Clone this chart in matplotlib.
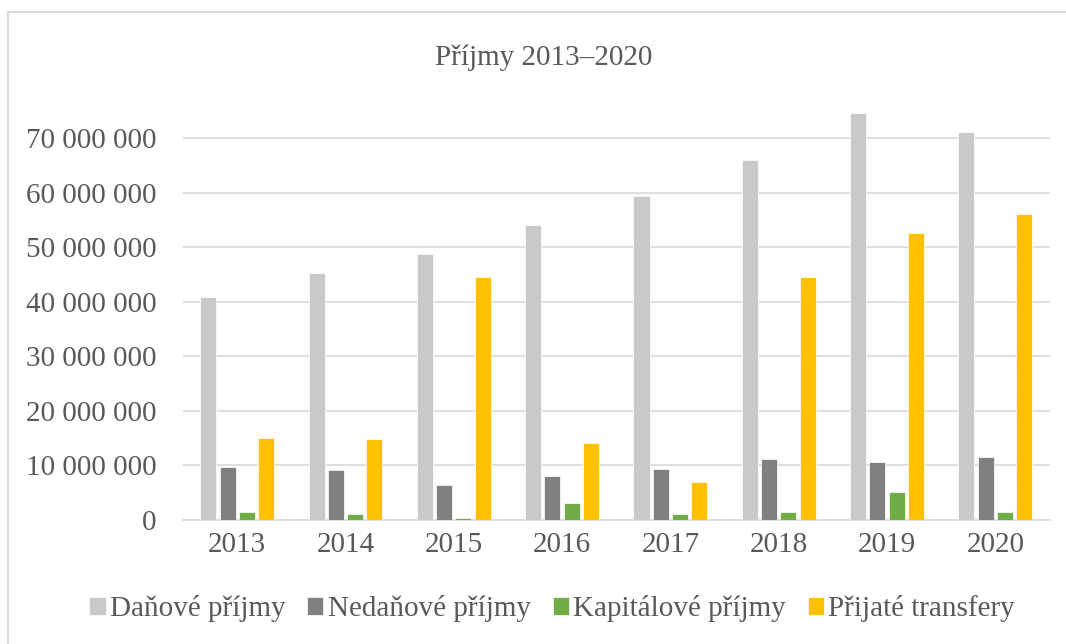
import numpy as np
import matplotlib
matplotlib.use('Agg')
import matplotlib.pyplot as plt
from matplotlib.patches import Rectangle
from matplotlib.ticker import FuncFormatter

years = ['2013', '2014', '2015', '2016', '2017', '2018', '2019', '2020']
danove = [40.9e6, 45.3e6, 48.75e6, 54.0e6, 59.4e6, 66.0e6, 74.7e6, 71.2e6]
nedanove = [9.7e6, 9.1e6, 6.4e6, 8.1e6, 9.25e6, 11.1e6, 10.6e6, 11.5e6]
kapitalove = [1.47e6, 1.05e6, 0.37e6, 3.0e6, 1.1e6, 1.35e6, 5.1e6, 1.47e6]
transfery = [15.0e6, 14.75e6, 44.5e6, 14.1e6, 6.9e6, 44.6e6, 52.6e6, 56.1e6]
series_names = ['Daňové příjmy', 'Nedaňové příjmy', 'Kapitálové příjmy', 'Přijaté transfery']
colors = ['#c9c9c9', '#808080', '#70ad47', '#ffc000']

plt.rcParams['font.family'] = ['Liberation Serif', 'DejaVu Serif']
text_color = '#595959'

fig = plt.figure(figsize=(10.66, 6.44), dpi=100)
# chart border
fig.patches.append(Rectangle((8 / 1066, -0.1), 1.2, 1 - 12 / 644 + 0.1,
                             transform=fig.transFigure, fill=False,
                             edgecolor='#d9d9d9', linewidth=1.5))

ax = fig.add_axes([183 / 1066, 1 - 519.7 / 644, 866.5 / 1066, 414.2 / 644])

x = np.arange(len(years))
slot = 0.178
width = 0.148
for i, (vals, name, c) in enumerate(zip([danove, nedanove, kapitalove, transfery],
                                        series_names, colors)):
    ax.bar(x + (i - 1.5) * slot, vals, width, color=c, label=name,
           edgecolor='white', linewidth=0.5, zorder=3)

ax.set_xlim(-0.5, 7.5)
ax.set_ylim(0, 76e6)
ax.set_yticks(np.arange(0, 70e6 + 1, 10e6))
ax.yaxis.set_major_formatter(FuncFormatter(lambda v, p: f'{int(v):,}'.replace(',', ' ')))
ax.set_xticks(x)
ax.set_xticklabels(years)
ax.grid(axis='y', color='#d9d9d9', linewidth=1.2, zorder=0)
for s in ['top', 'right', 'left']:
    ax.spines[s].set_visible(False)
ax.spines['bottom'].set_color('#d9d9d9')
ax.spines['bottom'].set_linewidth(1.2)
ax.tick_params(axis='both', length=0, labelsize=21, colors=text_color)
ax.tick_params(axis='y', pad=19)
ax.tick_params(axis='x', pad=9)

fig.text(544 / 1066, 1 - 58 / 644, 'Příjmy 2013–2020', ha='center', va='center',
         fontsize=21, color=text_color)

leg = fig.legend(loc='center', bbox_to_anchor=(0.518, 1 - 609 / 644), ncol=4,
                 frameon=False, prop={'family': 'Liberation Serif', 'size': 21},
                 handlelength=0.55, handleheight=0.55,
                 handletextpad=0.15, columnspacing=0.75)
for t in leg.get_texts():
    t.set_color(text_color)

fig.savefig('out.png', dpi=100)
